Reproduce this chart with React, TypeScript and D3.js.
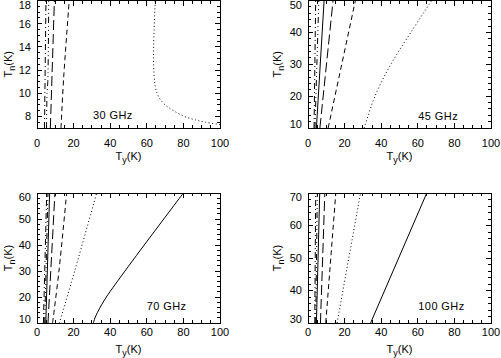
import React from "react";
import * as d3 from "d3";

// ---------- data ----------
const freqLabels = ["30 GHz", "45 GHz", "70 GHz", "100 GHz"];
const xDomain = [0, 100];
const xTickValues = [0, 20, 40, 60, 80, 100];
const yDomains = [
  [7, 18],
  [10, 50],
  [10, 60],
  [30, 70],
];
const yTickValues = [
  [8, 10, 12, 14, 16, 18],
  [10, 20, 30, 40, 50],
  [10, 20, 30, 40, 50, 60],
  [30, 40, 50, 60, 70],
];
const yMinorSteps = [0.5, 2, 2, 2];
const xMinorStep = 5;

// curves: [Tn, Ty] points
const c30_dashDot = [[7, 4.1], [18, 4.9]];
const c30_dash3Dot = [[7, 5.2], [10, 5.5], [11, 5.9], [18, 6.4]];
const c30_longDash = [[7, 7.3], [18, 9.5]];
const c30_dashed = [[7, 13.1], [11.4, 14.6], [18, 17.6]];
const c30_dotted = [
  [7.3, 100], [7.5, 92], [7.7, 86.5], [8.0, 80.5], [8.5, 74.5], [9.0, 70],
  [9.5, 67.2], [10, 65.6], [10.6, 64.6], [11.5, 64.0], [13, 63.7], [15, 63.9],
  [18, 64.6],
];

const c45_dashDot = [[10, 3.3], [50, 4.2]];
const c45_dash3Dot = [[10, 3.8], [50, 5.9]];
const c45_solidThin = [[10, 4.6], [50, 8.8]];
const c45_longDash = [[10, 6.5], [50, 13.7]];
const c45_dashed = [[10, 11.0], [50, 25.9]];
const c45_dotted = [[10, 30.7], [20, 36.6], [30, 45.3], [40, 56.2], [50, 67.6]];

const c70_dashDot = [[10, 3.5], [60, 5.3]];
const c70_dash3Dot = [[10, 4.2], [60, 6.0]];
const c70_solidThin = [[10, 4.8], [60, 6.9]];
const c70_longDash = [[10, 6.0], [60, 9.8]];
const c70_dashed = [[10, 8.5], [30, 12.0], [60, 16.2]];
const c70_dotted = [[10, 12.2], [30, 20.6], [60, 32.6]];
const c70_solid = [[10, 30.8], [12, 31.7], [14, 33.0], [17, 35.3], [20, 37.9], [25, 42.9], [40, 58.6], [60, 80]];

const c100_dashDot = [[30, 3.7], [70, 4.2]];
const c100_dash3Dot = [[30, 4.2], [70, 5.1]];
const c100_solidThin = [[30, 4.6], [70, 6.4]];
const c100_longDash = [[30, 6.8], [70, 9.2]];
const c100_dashed = [[30, 9.7], [70, 15.2]];
const c100_dotted = [[30, 15.9], [70, 28.7]];
const c100_solid = [[30, 34.2], [70, 64.9]];

const panelCurves = [
  [
    { pts: c30_dashDot, style: "dashDot" },
    { pts: c30_dash3Dot, style: "dash3Dot" },
    { pts: c30_longDash, style: "longDash" },
    { pts: c30_dashed, style: "dashed" },
    { pts: c30_dotted, style: "dotted" },
  ],
  [
    { pts: c45_dashDot, style: "dashDot" },
    { pts: c45_dash3Dot, style: "dash3Dot" },
    { pts: c45_solidThin, style: "solid" },
    { pts: c45_longDash, style: "longDash" },
    { pts: c45_dashed, style: "dashed" },
    { pts: c45_dotted, style: "dotted" },
  ],
  [
    { pts: c70_dashDot, style: "dashDot" },
    { pts: c70_dash3Dot, style: "dash3Dot" },
    { pts: c70_solidThin, style: "solid" },
    { pts: c70_longDash, style: "longDash" },
    { pts: c70_dashed, style: "dashed" },
    { pts: c70_dotted, style: "dotted" },
    { pts: c70_solid, style: "solid" },
  ],
  [
    { pts: c100_dashDot, style: "dashDot" },
    { pts: c100_dash3Dot, style: "dash3Dot" },
    { pts: c100_solidThin, style: "solid" },
    { pts: c100_longDash, style: "longDash" },
    { pts: c100_dashed, style: "dashed" },
    { pts: c100_dotted, style: "dotted" },
    { pts: c100_solid, style: "solid" },
  ],
];

// ---------- layout / styles ----------
const W = 501;
const H = 358;
const layout = [
  { x0: 37, x1: 220, yTop: 0.5, yBot: 128, xLabY: 146.5, xTitleY: 160, yTitleX: 11.5 },
  { x0: 308, x1: 491, yTop: 0.5, yBot: 128, xLabY: 146.5, xTitleY: 160, yTitleX: 281 },
  { x0: 37, x1: 220, yTop: 193, yBot: 323, xLabY: 336, xTitleY: 353, yTitleX: 11.5 },
  { x0: 308, x1: 491, yTop: 193, yBot: 323, xLabY: 336, xTitleY: 353, yTitleX: 281 },
];
const labelPos = [
  { fx: 0.306, fy: 0.9 },
  { fx: 0.603, fy: 0.91 },
  { fx: 0.6, fy: 0.87 },
  { fx: 0.603, fy: 0.87 },
];
const dashes: Record<string, string | undefined> = {
  solid: undefined,
  dotted: "1,2.5",
  dashed: "5,3.5",
  dashDot: "6,3,1,3",
  dash3Dot: "6,3,1,3,1,3,1,3",
  longDash: "10,4",
};
const FONT = "'Liberation Sans', Arial, Helvetica, sans-serif";
const FS = 11;
const MAJOR = 5;
const MINOR = 3;

function range(a: number, b: number, step: number) {
  const out: number[] = [];
  for (let v = a; v <= b + 1e-9; v += step) out.push(+v.toFixed(6));
  return out;
}

function Panel({ i }: { i: number }) {
  const L = layout[i];
  const x = d3.scaleLinear().domain(xDomain).range([L.x0, L.x1]);
  const y = d3.scaleLinear().domain(yDomains[i]).range([L.yBot, L.yTop]);
  const line = d3
    .line<number[]>()
    .x((d) => x(d[1]))
    .y((d) => y(d[0]))
    .curve(d3.curveCatmullRom.alpha(0.5));

  const xMajors = xTickValues;
  const xMinors = range(xDomain[0], xDomain[1], xMinorStep).filter((v) => !xMajors.includes(v));
  const [ya, yb] = yDomains[i];
  const yMajors = yTickValues[i];
  const yMinors = range(Math.ceil(ya / yMinorSteps[i]) * yMinorSteps[i], yb, yMinorSteps[i]).filter(
    (v) => !yMajors.some((m) => Math.abs(m - v) < 1e-6)
  );
  const clipId = `clip${i}`;
  const cx = (L.x0 + L.x1) / 2;
  const cy = (L.yTop + L.yBot) / 2;
  const lp = labelPos[i];

  const clampY = (v: number) => Math.max(L.yTop + 4.5, Math.min(L.yBot - 3.5, v));

  return (
    <g>
      <defs>
        <clipPath id={clipId}>
          <rect x={L.x0} y={L.yTop} width={L.x1 - L.x0} height={L.yBot - L.yTop} />
        </clipPath>
      </defs>
      <g clipPath={`url(#${clipId})`}>
        {panelCurves[i].map((c, k) => (
          <path
            key={k}
            d={line(c.pts as number[][]) || ""}
            fill="none"
            stroke="#000"
            strokeWidth={1}
            strokeDasharray={dashes[c.style]}
          />
        ))}
      </g>
      <g stroke="#000" strokeWidth={1} shapeRendering="crispEdges">
        <rect x={L.x0} y={L.yTop} width={L.x1 - L.x0} height={L.yBot - L.yTop} fill="none" />
        {xMajors.map((v) => (
          <g key={"xM" + v}>
            <line x1={x(v)} x2={x(v)} y1={L.yBot} y2={L.yBot - MAJOR} />
            <line x1={x(v)} x2={x(v)} y1={L.yTop} y2={L.yTop + MAJOR} />
          </g>
        ))}
        {xMinors.map((v) => (
          <g key={"xm" + v}>
            <line x1={x(v)} x2={x(v)} y1={L.yBot} y2={L.yBot - MINOR} />
            <line x1={x(v)} x2={x(v)} y1={L.yTop} y2={L.yTop + MINOR} />
          </g>
        ))}
        {yMajors.map((v) => (
          <g key={"yM" + v}>
            <line x1={L.x0} x2={L.x0 + MAJOR} y1={y(v)} y2={y(v)} />
            <line x1={L.x1} x2={L.x1 - MAJOR} y1={y(v)} y2={y(v)} />
          </g>
        ))}
        {yMinors.map((v) => (
          <g key={"ym" + v}>
            <line x1={L.x0} x2={L.x0 + MINOR} y1={y(v)} y2={y(v)} />
            <line x1={L.x1} x2={L.x1 - MINOR} y1={y(v)} y2={y(v)} />
          </g>
        ))}
      </g>
      <g fontFamily={FONT} fontSize={FS} fill="#000">
        {xMajors.map((v) => (
          <text key={"xl" + v} x={x(v)} y={L.xLabY} textAnchor="middle">
            {v}
          </text>
        ))}
        {yMajors.map((v) => (
          <text key={"yl" + v} x={L.x0 - 6} y={clampY(y(v))} dy="0.36em" textAnchor="end">
            {v}
          </text>
        ))}
        <text x={cx} y={L.xTitleY} textAnchor="middle">
          T<tspan dy={3} fontSize={9}>y</tspan>
          <tspan dy={-3}>(K)</tspan>
        </text>
        <text transform={`translate(${L.yTitleX},${cy}) rotate(-90)`} textAnchor="middle">
          T<tspan dy={3} fontSize={9}>n</tspan>
          <tspan dy={-3}>(K)</tspan>
        </text>
        <text
          x={L.x0 + lp.fx * (L.x1 - L.x0)}
          y={L.yTop + lp.fy * (L.yBot - L.yTop)}
          dy="0.36em"
          textAnchor="start"
          letterSpacing={0.4}
        >
          {freqLabels[i]}
        </text>
      </g>
    </g>
  );
}

export default function App() {
  return (
    <svg
      width={W}
      height={H}
      viewBox={`0 0 ${W} ${H}`}
      style={{ position: "absolute", left: 0, top: 0, background: "#fff" }}
    >
      <rect x={0} y={0} width={W} height={H} fill="#fff" />
      {[0, 1, 2, 3].map((i) => (
        <Panel key={i} i={i} />
      ))}
    </svg>
  );
}
